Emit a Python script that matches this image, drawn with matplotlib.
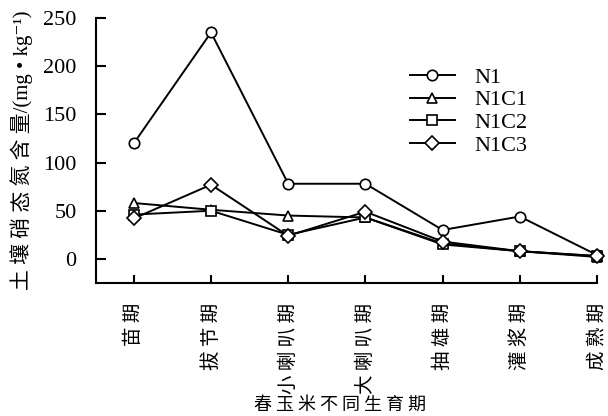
import numpy as np
import matplotlib.pyplot as plt

plt.rcParams['font.family'] = ['Liberation Serif', 'Noto Sans CJK SC', 'DejaVu Serif']

stages = ['苗期', '拔节期', '小喇叭期', '大喇叭期', '抽雄期', '灌浆期', '成熟期']
n1 = [120, 235, 78, 78, 30, 44, 4]
n1c1 = [58, 51, 45, 43, 16, 8, 2]
n1c2 = [46, 50, 25, 43, 15, 8, 3]
n1c3 = [42, 77, 24, 49, 18, 8, 3]
series = [('N1', n1, 'o'), ('N1C1', n1c1, '^'), ('N1C2', n1c2, 's'), ('N1C3', n1c3, 'D')]
yticks = [0, 50, 100, 150, 200, 250]


def spaced(s):
    # the original typesetting puts a gap between the characters
    return ' '.join(s)


fig = plt.figure(figsize=(6.08, 4.16), dpi=100)
ax = fig.add_axes([96 / 608, 1 - 283 / 416, (597 - 96) / 608, (283 - 18) / 416])

x = np.arange(len(stages))
msizes = {'o': 7.5, '^': 7.5, 's': 6.5, 'D': 7}
for name, vals, m in series:
    ax.plot(x, vals, color='black', lw=1.4, marker=m, ms=msizes[m],
            mfc='white', mec='black', mew=1.2, label=name, clip_on=False)

ax.set_xlim(-0.49, 6)
ax.set_ylim(-25, 250)
ax.set_yticks(yticks)
ax.set_xticks(x)
ax.set_xticklabels([spaced(s) for s in stages], rotation=90, fontsize=14,
                   family='Noto Sans CJK SC')
ax.tick_params(axis='y', direction='in', length=7.5, width=1.5, labelsize=16, pad=14)
ax.tick_params(axis='x', direction='in', length=6, width=1.5, pad=14)
for s in ['top', 'right']:
    ax.spines[s].set_visible(False)
for s in ['left', 'bottom']:
    ax.spines[s].set_linewidth(1.5)

fig.text(22 / 608, 1 - 150 / 416, spaced('土壤硝态氮含量') + '/(mg • kg⁻¹)', rotation=90,
         ha='center', va='center', fontsize=15)
fig.text(340 / 608, 1 - 405 / 416, spaced('春玉米不同生育期'), ha='center', va='center',
         fontsize=13, family='Noto Sans CJK SC')

ax.legend(loc='upper left', bbox_to_anchor=(0.627, 0.815), frameon=False, fontsize=16,
          handlelength=2.0, labelspacing=0.1, handletextpad=0.9, borderpad=0,
          borderaxespad=0)

fig.savefig('out.png', dpi=100)
